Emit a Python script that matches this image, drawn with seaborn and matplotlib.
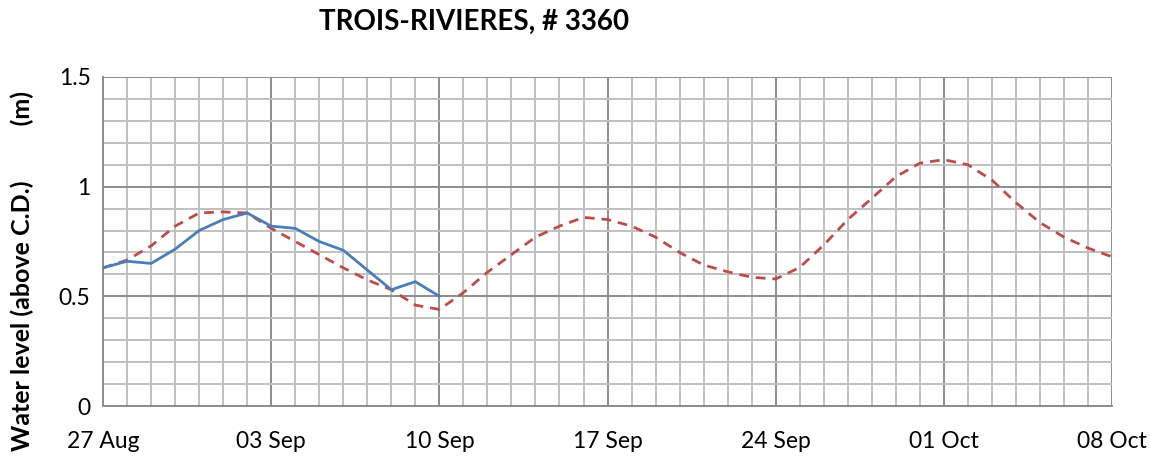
import numpy as np
import pandas as pd
import matplotlib
matplotlib.use("Agg")
import matplotlib.pyplot as plt
from matplotlib.ticker import MultipleLocator
import seaborn as sns

# ---- data (daily values) ----
start_date = "2013-08-27"

observed = [0.63, 0.66, 0.65, 0.715, 0.80, 0.85, 0.88, 0.82, 0.81, 0.75,
            0.71, 0.62, 0.53, 0.567, 0.50]

predicted = [0.63, 0.665, 0.73, 0.82, 0.88, 0.885, 0.88, 0.81, 0.75, 0.69,
             0.63, 0.575, 0.53, 0.46, 0.44, 0.517, 0.61, 0.69, 0.77, 0.82,
             0.86, 0.85, 0.82, 0.77, 0.70, 0.643, 0.612, 0.587, 0.579, 0.632,
             0.734, 0.85, 0.947, 1.045, 1.107, 1.123, 1.10, 1.03, 0.927, 0.836,
             0.77, 0.72, 0.68]

tick_labels = ["27 Aug", "03 Sep", "10 Sep", "17 Sep", "24 Sep", "01 Oct", "08 Oct"]
y_tick_values = [0, 0.5, 1, 1.5]
y_tick_labels = ["0", "0.5", "1", "1.5"]

title = "TROIS-RIVIERES, # 3360"
y_label = "Water level (above C.D.)         (m)"

# ---- build tables ----
obs_df = pd.DataFrame({
    "date": pd.date_range(start_date, periods=len(observed), freq="D"),
    "level": observed,
})
pred_df = pd.DataFrame({
    "date": pd.date_range(start_date, periods=len(predicted), freq="D"),
    "level": predicted,
})

# ---- style ----
sns.set_style("white")
plt.rcParams["font.family"] = ["Lato", "DejaVu Sans"]
plt.rcParams["text.color"] = "black"
plt.rcParams["xtick.color"] = "black"
plt.rcParams["ytick.color"] = "black"
plt.rcParams["axes.labelcolor"] = "black"

fig = plt.figure(figsize=(11.5, 4.61), dpi=100)
ax = fig.add_axes([0.0896, 0.1193, 0.8774, 0.7137])

sns.lineplot(data=pred_df, x="date", y="level", ax=ax, color="#be4b48",
             linewidth=2.0, linestyle=(0, (3.5, 2.5)), zorder=3)
sns.lineplot(data=obs_df, x="date", y="level", ax=ax, color="#4a7ebb",
             linewidth=2.0, zorder=4)

# ---- axes ----
x0 = pred_df["date"].iloc[0]
x1 = pred_df["date"].iloc[-1]
ax.set_xlim(x0, x1)
ax.set_ylim(0, 1.5)

major_dates = pd.date_range(x0, x1, freq="7D")
ax.set_xticks(major_dates)
ax.set_xticklabels(tick_labels, fontsize=16.5)
ax.set_xticks(pred_df["date"], minor=True)

ax.set_yticks(y_tick_values)
ax.set_yticklabels(y_tick_labels, fontsize=16.5)
ax.yaxis.set_minor_locator(MultipleLocator(0.1))

ax.grid(which="minor", color="#c0c0c0", linewidth=1.4, zorder=0)
ax.grid(which="major", color="#8c8c8c", linewidth=1.4, zorder=1)
ax.set_axisbelow(True)

ax.tick_params(axis="x", which="major", direction="out", length=8,
               width=1.2, color="#8c8c8c", labelcolor="black", pad=10)
ax.tick_params(axis="y", which="major", direction="out", length=5,
               width=1.2, color="#8c8c8c", labelcolor="black", pad=4)
ax.tick_params(which="minor", length=0)

for side in ["top", "right"]:
    ax.spines[side].set_visible(False)
for side in ["left", "bottom"]:
    ax.spines[side].set_color("#8c8c8c")
    ax.spines[side].set_linewidth(1.4)

ax.set_xlabel("")
ax.set_ylabel("")

# y label placed in figure coords
fig.text(22 / 1150, 1 - 271 / 461, y_label, rotation=90, fontsize=18,
         fontweight="bold", ha="center", va="center")

fig.text(0.412, 0.952, title, fontsize=20, fontweight="bold",
         ha="center", va="center")

fig.savefig("out.png", dpi=100)
